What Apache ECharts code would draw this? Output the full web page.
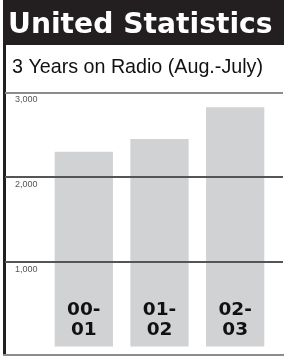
<!DOCTYPE html>
<html>
<head>
<meta charset="utf-8">
<script src="https://cdn.jsdelivr.net/npm/echarts@6/dist/echarts.min.js"></script>
<style>
  html, body { margin: 0; padding: 0; background: #fff; }
  #main { width: 286px; height: 357px; }
</style>
</head>
<body>
<div id="main"></div>
<script>
// data
const seasons = ['00-\n01', '01-\n02', '02-\n03'];
const listeners = [2300, 2450, 2825];
const yTicks = [0, 1000, 2000, 3000];

const chart = echarts.init(document.getElementById('main'), null, { renderer: 'canvas' });

const yMax = yTicks[yTicks.length - 1];
const fmt = v => (v === 0 ? '' : v.toLocaleString('en-US'));

chart.setOption({
  animation: false,
  title: [
    {
      text: 'United Statistics',
      left: 3,
      top: 7,
      textStyle: {
        color: '#fff',
        fontFamily: 'DejaVu Sans',
        fontWeight: 'bold',
        fontSize: 28.2
      }
    },
    {
      text: '3 Years on Radio (Aug.-July)',
      left: 7,
      top: 53,
      textStyle: {
        color: '#111',
        fontFamily: 'Liberation Sans',
        fontWeight: 'normal',
        fontSize: 19.7
      }
    }
  ],
  graphic: [
    // header band
    { type: 'rect', z: -1, shape: { x: 3, y: 0, width: 281, height: 45 }, style: { fill: '#231f20' } },
    // frame: left rule and bottom rule
    { type: 'rect', shape: { x: 3, y: 45, width: 3, height: 311 }, style: { fill: '#231f20' } },
    { type: 'rect', shape: { x: 3, y: 354, width: 281, height: 2 }, style: { fill: '#8c8c8c' } }
  ],
  grid: [
    // bars
    { left: 46, right: 13, top: 92.5, bottom: 10.5 },
    // full width grid lines and labels
    { left: 5, right: 3, top: 92.5, bottom: 10.5 }
  ],
  xAxis: [
    {
      type: 'category',
      gridIndex: 0,
      data: seasons,
      axisLine: { show: false },
      axisTick: { show: false },
      axisLabel: {
        inside: true,
        margin: 7,
        verticalAlign: 'bottom',
        color: '#111',
        fontFamily: 'DejaVu Sans',
        fontWeight: 'bold',
        fontSize: 18.5,
        lineHeight: 19.5
      },
      z: 5
    },
    { type: 'value', gridIndex: 1, min: 0, max: 1, show: false }
  ],
  yAxis: [
    { type: 'value', gridIndex: 0, min: 0, max: yMax, interval: 1000, show: false },
    {
      type: 'value',
      gridIndex: 1,
      min: 0,
      max: yMax,
      interval: 1000,
      axisLine: { show: false },
      axisTick: { show: false },
      splitLine: {
        show: true,
        lineStyle: { color: ['rgba(0,0,0,0)', '#555', '#555', '#8c8c8c'], width: 2 }
      },
      axisLabel: {
        inside: true,
        margin: 10,
        verticalAlign: 'top',
        padding: [3, 0, 0, 0],
        color: '#555',
        fontFamily: 'Liberation Sans',
        fontSize: 9,
        formatter: fmt
      },
      z: 3
    }
  ],
  series: [
    {
      type: 'bar',
      xAxisIndex: 0,
      yAxisIndex: 0,
      data: listeners,
      barCategoryGap: '23%',
      itemStyle: { color: '#d1d2d4' },
      z: 1
    }
  ]
});
</script>
</body>
</html>
